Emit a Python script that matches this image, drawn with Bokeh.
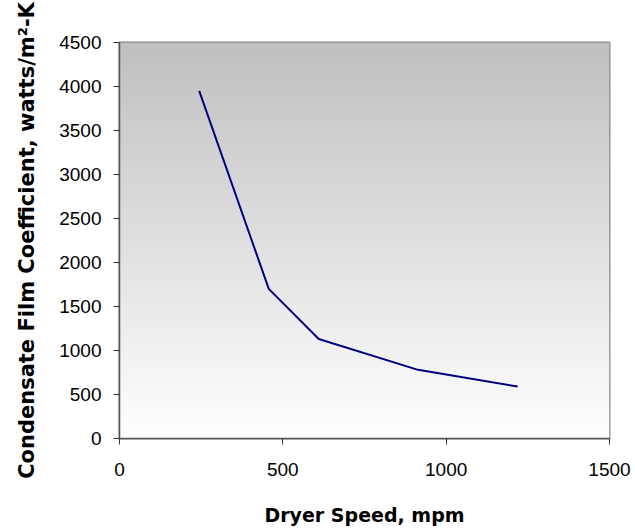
import numpy as np
from bokeh.plotting import figure
from bokeh.models import FixedTicker, Range1d
from bokeh.embed import file_html
from bokeh.resources import INLINE

# Dryer speed (m/min) vs condensate film coefficient (W/m^2-K)
speed = [244, 457, 610, 914, 1219]
film_coeff = [3950, 1700, 1130, 780, 590]

x_ticks = [0, 500, 1000, 1500]
y_ticks = [0, 500, 1000, 1500, 2000, 2500, 3000, 3500, 4000, 4500]

p = figure(width=635, height=529, output_backend="svg", toolbar_location=None,
           x_range=Range1d(0, 1500), y_range=Range1d(0, 4500),
           min_border_left=119, min_border_right=26,
           min_border_top=42, min_border_bottom=91)
p.background_fill_color = "white"
p.border_fill_color = "white"
p.outline_line_color = "#888888"
p.outline_line_width = 2

# vertical grey-to-white gradient behind the plot area
grad = np.linspace(0.0, 1.0, 400).reshape(400, 1)
shades = ["#%02x%02x%02x" % (v, v, v) for v in np.linspace(255, 192, 256).astype(int)]
p.image(image=[grad], x=0, y=0, dw=1500, dh=4500, palette=shades)

p.line(speed, film_coeff, line_color="#000080", line_width=2)

p.xgrid.visible = False
p.ygrid.grid_line_color = "#2a2a2a"
p.ygrid.grid_line_width = 1

for ax in (p.xaxis[0], p.yaxis[0]):
    ax.axis_line_color = "#555555"
    ax.axis_line_width = 1.5
    ax.major_tick_line_color = "#333333"
    ax.major_tick_out = 6
    ax.major_tick_in = 0
    ax.minor_tick_line_color = None
    ax.major_label_text_font = "Liberation Sans"
    ax.major_label_text_font_size = "19px"
    ax.major_label_text_color = "black"
    ax.axis_label_text_font = "DejaVu Sans"
    ax.axis_label_text_font_style = "bold"
    ax.axis_label_text_color = "black"

p.xaxis.axis_label_text_font_size = "19px"
p.yaxis.axis_label_text_font_size = "21px"

p.xaxis.ticker = FixedTicker(ticks=x_ticks)
p.yaxis.ticker = FixedTicker(ticks=y_ticks)
p.xaxis.axis_label = "Dryer Speed, mpm"
p.yaxis.axis_label = "Condensate Film Coefficient, watts/m²-K"
p.yaxis.major_label_standoff = 12
p.xaxis.major_label_standoff = 18
p.yaxis.axis_label_standoff = 17
p.xaxis.axis_label_standoff = 25

open("out.html", "w").write(file_html(p, INLINE))
